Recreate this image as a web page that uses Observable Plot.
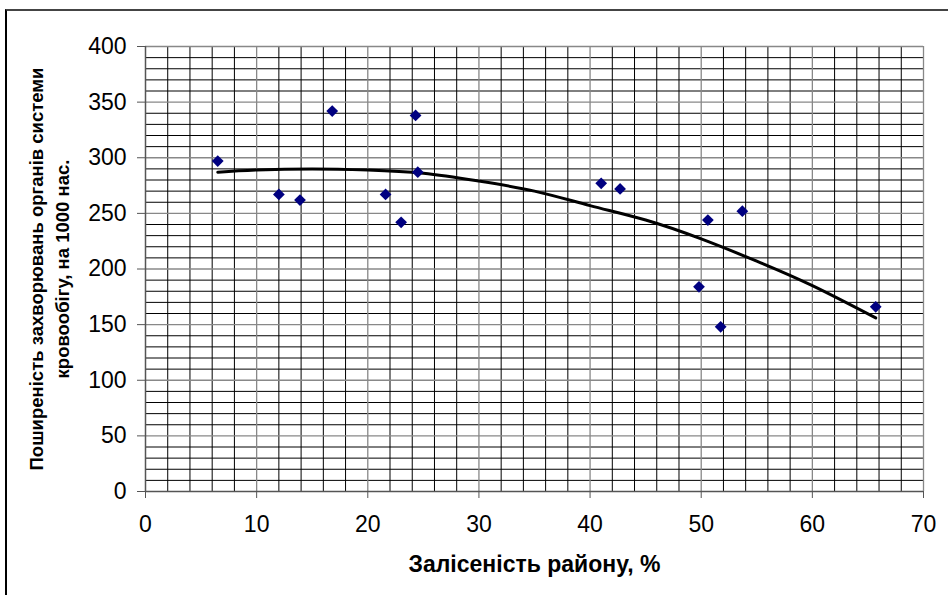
<!DOCTYPE html>
<html>
<head>
<meta charset="utf-8">
<script src="https://cdn.jsdelivr.net/npm/d3@7"></script>
<script src="https://cdn.jsdelivr.net/npm/@observablehq/plot@0.6"></script>
<style>
  html, body { margin: 0; padding: 0; background: #fff; }
  #wrap { position: relative; width: 948px; height: 595px; overflow: hidden; }
  #frame { position: absolute; left: 5px; top: 9px; width: 960px; height: 600px;
           border-top: 2px solid #444; border-left: 2px solid #000; pointer-events: none; }
  svg { font-family: "Liberation Sans", Arial, sans-serif; }
</style>
</head>
<body>
<div id="wrap"><div id="frame"></div></div>
<script>
// Scatter points: forest cover (%) vs. circulatory disease prevalence per 1000
const forestCover = [6.5, 12.0, 13.9, 16.8, 21.6, 23.0, 24.3, 24.5, 41.0, 42.7, 49.8, 50.6, 51.75, 53.7, 65.7];
const prevalence  = [297, 267, 262, 342, 267, 242, 338, 287, 277, 272, 184, 244, 148, 252, 166];

// Trendline
const trendX = [6.5, 10, 15, 20, 25, 30, 35, 40, 45, 50, 55, 60, 65.7];
const trendY = [287, 289, 290, 289, 286, 279, 270, 257, 244, 227, 207, 185, 156];

// Tick labels
const xTicks = [0, 10, 20, 30, 40, 50, 60, 70];
const yTicks = [0, 50, 100, 150, 200, 250, 300, 350, 400];

const xLabel = "Залісеність району, %";
const yLabel = "Поширеність захворювань органів системи\nкровообігу, на 1000 нас.";

const points = forestCover.map((x, i) => ({x, y: prevalence[i]}));
const trend = trendX.map((x, i) => ({x, y: trendY[i]}));

const xMinor = d3.range(0, 70, 2).filter(v => v % 10 !== 0);
const yMinor = d3.range(0, 400, 10).filter(v => v % 50 !== 0);

const chart = Plot.plot({
  width: 948,
  height: 595,
  marginLeft: 145,
  marginRight: 25,
  marginTop: 46,
  marginBottom: 104,
  style: {fontFamily: "'Liberation Sans', Arial, sans-serif", background: "transparent", overflow: "visible"},
  x: {domain: [0, 70]},
  y: {domain: [0, 400]},
  marks: [
    Plot.ruleX(xMinor, {stroke: "#000", strokeWidth: 1}),
    Plot.ruleY(yMinor, {stroke: "#000", strokeWidth: 1}),
    Plot.ruleX(xTicks.filter(v => v > 0), {stroke: "#888", strokeWidth: 1.3}),
    Plot.ruleY(yTicks.filter(v => v > 0), {stroke: "#888", strokeWidth: 1.3}),
    Plot.ruleX([0], {stroke: "#555", strokeWidth: 1.5}),
    Plot.ruleY([0], {stroke: "#555", strokeWidth: 1.5}),
    Plot.axisX({ticks: xTicks, tickSize: 7, tickPadding: 17, fontSize: 23, label: null, stroke: "#555", color: "#000"}),
    Plot.axisY({ticks: yTicks, tickSize: 8, tickPadding: 11, fontSize: 23, label: null, stroke: "#555", color: "#000"}),
    Plot.line(trend, {x: "x", y: "y", stroke: "#000", strokeWidth: 3, curve: "natural"}),
    Plot.dot(points, {x: "x", y: "y", symbol: "diamond2", r: 5.3, fill: "#000080", stroke: "none"}),
    Plot.text([xLabel], {frameAnchor: "bottom", dy: 73, fontSize: 23, fontWeight: "bold", lineAnchor: "middle", fill: "#000"}),
    Plot.text([yLabel], {frameAnchor: "left", dx: -98, rotate: -90, textAnchor: "middle", fontSize: 18.5, fontWeight: "bold", lineHeight: 1.4, lineAnchor: "middle", fill: "#000"})
  ]
});
document.getElementById("wrap").insertBefore(chart, document.getElementById("frame"));
</script>
</body>
</html>
